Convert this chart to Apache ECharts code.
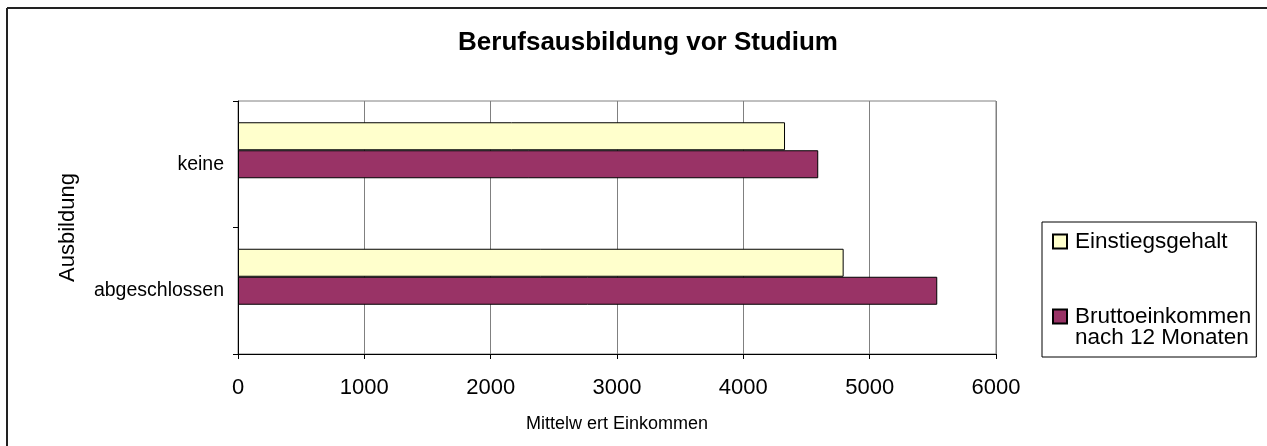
<!DOCTYPE html>
<html>
<head>
<meta charset="utf-8">
<script src="https://cdn.jsdelivr.net/npm/echarts@6/dist/echarts.min.js"></script>
<style>
  html, body { margin: 0; padding: 0; background: #fff; }
  #chart { width: 1267px; height: 446px; }
</style>
</head>
<body>
<div id="chart"></div>
<script>
// Kategorien (unten -> oben, wie die y-Achse sie zeichnet)
const categories = ["abgeschlossen", "keine"];
const seriesNames = ["Einstiegsgehalt", "Bruttoeinkommen nach 12 Monaten"];
const einstieg = [4794, 4330];
const brutto = [5535, 4593];
const xTicks = { min: 0, max: 6000, interval: 1000 };

const font = "'Liberation Sans', Arial, sans-serif";

const chart = echarts.init(document.getElementById("chart"));

const option = {
  animation: false,
  backgroundColor: "#fff",
  title: {
    text: "Berufsausbildung vor Studium",
    left: 643,
    top: 25,
    textAlign: "center",
    textStyle: { fontFamily: font, fontSize: 26, fontWeight: "bold", color: "#000" },
  },
  grid: {
    left: 238,
    right: 271,
    top: 101,
    bottom: 92,
    show: true,
    borderColor: "#808080",
    borderWidth: 1,
  },
  legend: {
    orient: "vertical",
    left: 1042,
    top: 222,
    padding: [8, 5, 8, 10],
    borderColor: "#000",
    borderWidth: 1,
    icon: "rect",
    itemWidth: 14,
    itemHeight: 14,
    itemGap: 31,
    data: seriesNames,
    textStyle: {
      fontFamily: font,
      fontSize: 22.5,
      color: "#000",
      rich: {
        e: { fontSize: 22.5, lineHeight: 21 },
        a: { fontFamily: font, fontSize: 22.5, lineHeight: 21, color: "#000", padding: [0, 0, 0, 3] },
      },
    },
    formatter: function (name) {
      if (name === seriesNames[1]) {
        return "{e| }\n{a|Bruttoeinkommen}\n{a|nach 12 Monaten}";
      }
      return "{a|" + name + "}";
    },
  },
  xAxis: {
    type: "value",
    min: xTicks.min,
    max: xTicks.max,
    interval: xTicks.interval,
    name: "Mittelw ert Einkommen",
    nameLocation: "middle",
    nameGap: 61,
    nameTextStyle: { fontFamily: font, fontSize: 18, color: "#000" },
    axisLine: { show: true, lineStyle: { color: "#000", width: 1 } },
    axisTick: { show: true, length: 5, lineStyle: { color: "#000" } },
    axisLabel: {
      fontFamily: font,
      fontSize: 22,
      color: "#000",
      margin: 23,
      formatter: function (v) { return String(v); },
    },
    splitLine: { show: true, lineStyle: { color: "#808080", width: 1 } },
  },
  yAxis: {
    type: "category",
    data: categories,
    name: "Ausbildung",
    nameLocation: "middle",
    nameRotate: 90,
    nameGap: 159,
    nameTextStyle: { fontFamily: font, fontSize: 22, color: "#000" },
    axisLine: { show: true, lineStyle: { color: "#000", width: 1 } },
    axisTick: { show: true, length: 5, lineStyle: { color: "#000" } },
    axisLabel: { fontFamily: font, fontSize: 19.5, color: "#000", margin: 14 },
    splitLine: { show: false },
  },
  series: [
    {
      name: seriesNames[0],
      type: "bar",
      data: einstieg,
      barWidth: 28,
      barGap: "0%",
      itemStyle: { color: "#FFFFCC", borderColor: "#000", borderWidth: 1 },
    },
    {
      name: seriesNames[1],
      type: "bar",
      data: brutto,
      barWidth: 28,
      barGap: "0%",
      itemStyle: { color: "#993366", borderColor: "#000", borderWidth: 1 },
    },
    {
      // leere dritte Reihe: haelt den Platz frei wie im Original
      name: "leer",
      type: "bar",
      data: [],
      barWidth: 28,
      barGap: "0%",
    },
  ],
  graphic: [
    { type: "line", shape: { x1: 7, y1: 8, x2: 1267, y2: 8 }, style: { stroke: "#222", lineWidth: 2 } },
    { type: "line", shape: { x1: 7, y1: 8, x2: 7, y2: 446 }, style: { stroke: "#222", lineWidth: 2 } },
  ],
};

chart.setOption(option);
</script>
</body>
</html>
